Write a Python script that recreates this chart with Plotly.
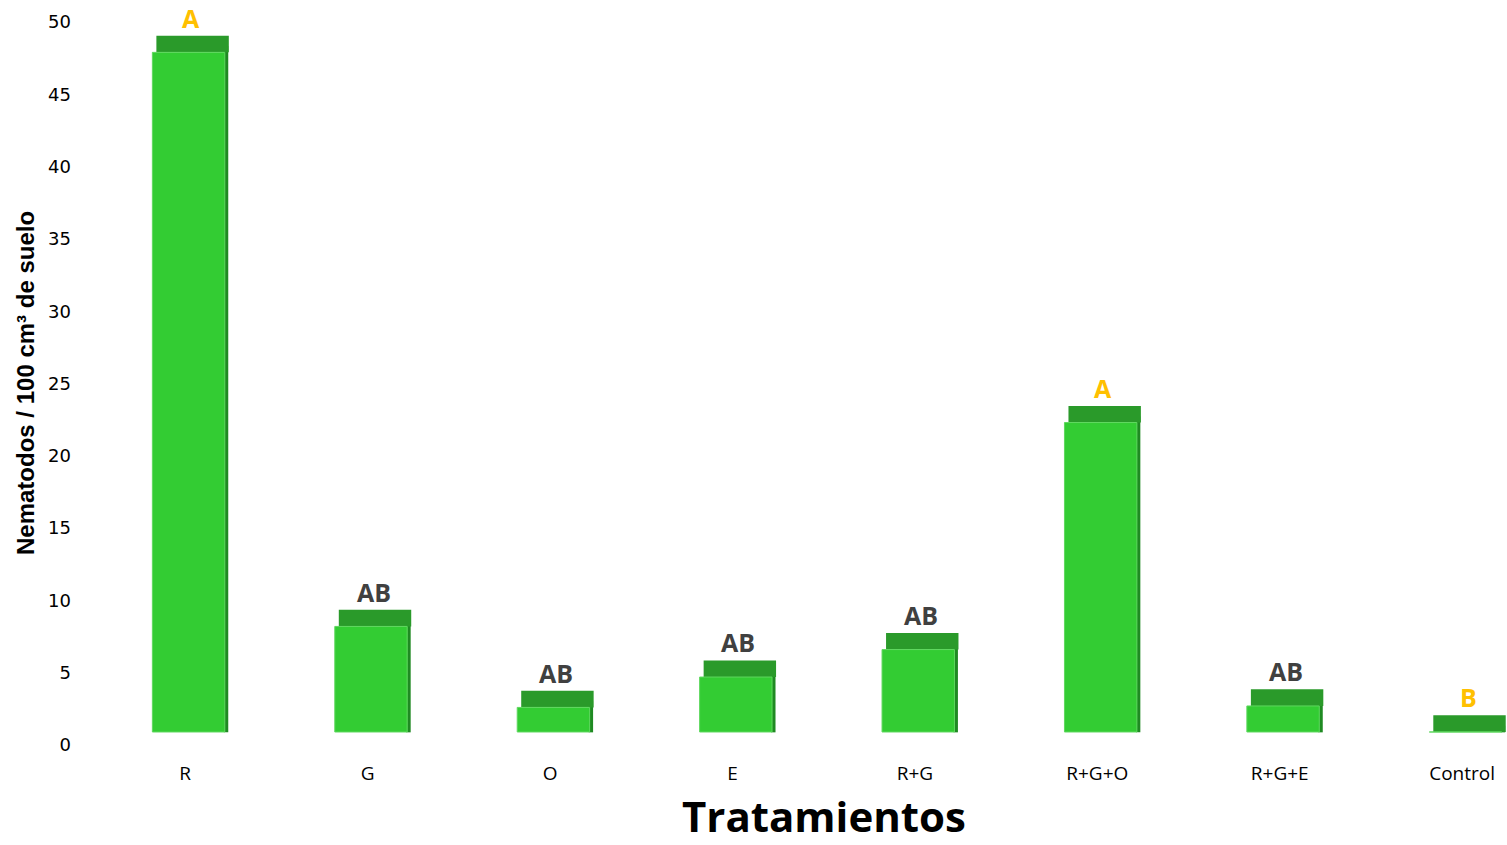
import plotly.graph_objects as go

categories = ["R", "G", "O", "E", "R+G", "R+G+O", "R+G+E", "Control"]
values = [47.0, 7.3, 1.7, 3.8, 5.7, 21.4, 1.8, 0.0]
letters = ["A", "AB", "AB", "AB", "AB", "A", "AB", "B"]
letter_colors = ["#FFC000", "#404040", "#404040", "#404040", "#404040", "#FFC000", "#404040", "#FFC000"]
y_ticks = [0, 5, 10, 15, 20, 25, 30, 35, 40, 45, 50]

floor = 0.9     # front edge of the 3D floor (axis units)
depth = 1.15    # visible depth of the top face (axis units)

x = list(range(len(categories)))
front_col = "#33CC33"
top_col = "#2A9A2A"
side_col = "#1F8A22"

fig = go.Figure()
# right side face
fig.add_trace(go.Bar(
    x=x, y=[v + depth * 0.4 for v in values], base=[floor - 0.6 + depth * 0.5] * len(values),
    width=0.024, offset=0.212, marker=dict(color=side_col, line=dict(width=0)),
    hoverinfo="skip", showlegend=False))
# top face
fig.add_trace(go.Bar(
    x=x, y=[depth] * len(values), base=[floor + v for v in values],
    width=0.397, offset=-0.158, marker=dict(color=top_col, line=dict(width=0)),
    hoverinfo="skip", showlegend=False))
# front face
fig.add_trace(go.Bar(
    x=x, y=values, base=[floor] * len(values),
    width=0.397, offset=-0.18, marker=dict(color=front_col, line=dict(color="#5FD85F", width=1)),
    showlegend=False))

for i, (v, t, c) in enumerate(zip(values, letters, letter_colors)):
    fig.add_annotation(x=i, y=floor + v + depth, text=t, showarrow=False,
                       xanchor="center", yanchor="bottom", xshift=6, yshift=-1,
                       font=dict(family="Open Sans", size=25, color=c, weight="bold"))

fig.add_annotation(xref="paper", yref="paper", x=(824 - 94) / 1413, y=(760 - 846) / 746,
                   text="Tratamientos", showarrow=False, xanchor="center", yanchor="bottom",
                   font=dict(family="Open Sans", size=42, color="black", weight="bold"))
fig.add_annotation(xref="paper", yref="paper", x=(25 - 94) / 1413, y=(760 - 383) / 746,
                   text="Nematodos / 100 cm³ de suelo", textangle=-90, showarrow=False,
                   xanchor="center", yanchor="middle",
                   font=dict(family="Liberation Sans", size=24, color="black", weight="bold"))

fig.update_layout(
    width=1507, height=845,
    margin=dict(l=94, r=0, t=14, b=85),
    paper_bgcolor="white", plot_bgcolor="white",
    barmode="overlay",
    xaxis=dict(range=[-0.5, 7.246], tickmode="array", tickvals=x, ticktext=categories,
               showgrid=False, zeroline=False, showline=False, ticks="",
               tickfont=dict(family="Open Sans", size=19, color="black")),
    yaxis=dict(range=[-1.037, 50.553], tickmode="array", tickvals=y_ticks,
               showgrid=False, zeroline=False, showline=False, ticks="",
               ticklabelstandoff=22,
               tickfont=dict(family="DejaVu Sans", size=18, color="black")),
)

fig.write_html("out.html")
